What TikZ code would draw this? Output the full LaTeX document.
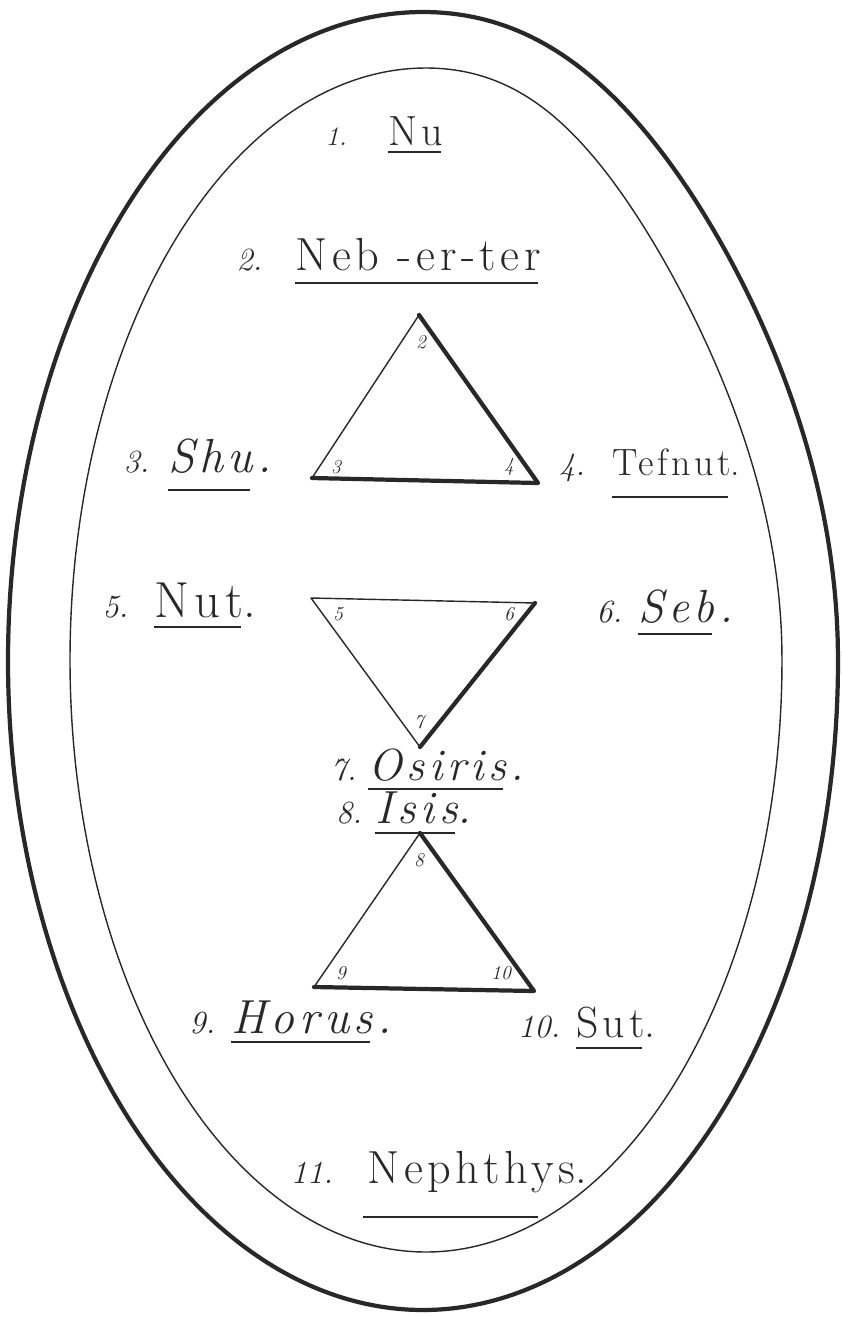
\documentclass[tikz,border=0pt]{standalone}
\usepackage{fontspec}
\setmainfont{Latin Modern Roman}
\usepackage{tikz}
\usetikzlibrary{positioning,calc}
\definecolor{Ink}{RGB}{40,40,40}
\newcommand{\fs}[1]{\fontsize{#1}{#1}\selectfont\addfontfeature{LetterSpace=10}}
\newcommand{\ns}[1]{\fontsize{#1}{#1}\selectfont}
\tikzset{
  god/.style={anchor=base west,inner sep=0pt,text=Ink},
  num/.style={inner sep=0pt,text=Ink,font=\ns{23}\itshape},
  corner/.style={inner sep=0pt,text=Ink,font=\ns{14}\itshape},
  thin/.style={draw=Ink,line width=1pt,line cap=round,line join=round},
  heavy/.style={draw=Ink,line width=3pt,line cap=round,line join=round},
  under/.style={draw=Ink,line width=1.3pt},
}

\begin{document}
\begin{tikzpicture}[x=0.025cm,y=-0.025cm]
\useasboundingbox (0,0) rectangle (842,1317);
% the egg (its upper right flank is a little flatter)
\draw[heavy] plot[domain=0:360,samples=181,smooth]
  ({423+415*cos(\x)-80*(sin(\x)*cos(\x))^2*(cos(\x)>0)*(sin(\x)>0)},{661-649*sin(\x)}) -- cycle;
\draw[thin] plot[domain=0:360,samples=181,smooth]
  ({426+356*cos(\x)-100*(sin(\x)*cos(\x))^2*(cos(\x)>0)*(sin(\x)>0)},{660-592*sin(\x)}) -- cycle;
% names
\node[god,font=\fs{30}] (nu) at (388,145) {Nu};
\node[god,font=\fs{33}] (neb) at (295,270) {Neb -er-ter};
\node[god,font=\fs{34}\itshape] (shu) at (168,472) {Shu\rlap{\hspace{0.1em}.}};
\node[god,font=\fs{27}] (tef) at (612,475) {Tefnut\rlap{.}};
\node[god,font=\fs{36}] (nut) at (154,617) {Nut\rlap{.}};
\node[god,font=\fs{33}\itshape] (seb) at (638,622) {Seb\rlap{\hspace{0.1em}.}};
\node[god,font=\fs{32}\itshape] (osi) at (368,780) {Osiris\rlap{\hspace{0.1em}.}};
\node[god,font=\fs{33}\itshape] (isis) at (375,823) {Isis\rlap{.}};
\node[god,font=\fs{34}\itshape] (hor) at (231,1033) {Horus\rlap{\hspace{0.1em}.}};
\node[god,font=\fs{31}] (sut) at (576,1037) {Sut\rlap{.}};
\node[god,font=\fs{33}] (neph) at (367,1183) {Nephthys\rlap{.}};
% numbers
\node[num,font=\ns{19}\itshape,base left=29pt of nu] (n1) {1.};
\node[num,base left=23pt of neb] (n2) {2.};
\node[num,base left=13pt of shu] (n3) {3.};
\node[num,base left=19pt of tef] (n4) {4.};
\node[num,base left=18pt of nut] (n5) {5.};
\node[num,base left=11pt of seb] (n6) {6.};
\node[num,base left=8pt of osi] (n7) {7.};
\node[num,base left=9pt of isis] (n8) {8.};
\node[num,base left=11pt of hor] (n9) {9.};
\node[num,base left=11pt of sut] (n10) {10.};
\node[num,base left=24pt of neph] (n11) {11.};
\foreach \n/\d in {nu/7,neb/13,shu/18,tef/22,nut/10,seb/12,osi/9,isis/10,hor/9,sut/11}
  \draw[under] ($(\n.base west)+(0,\d)$) -- ($(\n.base east)+(-3,\d)$);
\draw[under] ($(neph.base west)+(-4,34)$) -- ($(neph.base west)+(171,34)$);
% upper triangle
\coordinate (c2) at (419,315);
\coordinate (c3) at (312,478);
\coordinate (c4) at (538,483);
\draw[thin] (c2) -- (c3);
\draw[heavy] (c3) -- (c4) -- (c2);
\node[corner] (k2) at (421,342) {2};
\node[corner] (k3) at (336,467) {3};
\node[corner] (k4) at (509,467) {4};
% middle triangle
\coordinate (c5) at (311,598);
\coordinate (c6) at (535,603);
\coordinate (c7) at (420,747);
\draw[thin] (c6) -- (c5) -- (c7);
\draw[heavy] (c7) -- (c6);
\node[corner] (k5) at (338,614) {5};
\node[corner] (k6) at (509,614) {6};
\node[corner] (k7) at (419,722) {7};
% lower triangle
\coordinate (c8) at (420,833);
\coordinate (c9) at (314,987);
\coordinate (c10) at (534,991);
\draw[thin] (c8) -- (c9);
\draw[heavy] (c9) -- (c10) -- (c8);
\node[corner] (k8) at (419,860) {8};
\node[corner] (k9) at (341,973) {9};
\node[corner] (k10) at (501,973) {10};
\end{tikzpicture}
\end{document}
